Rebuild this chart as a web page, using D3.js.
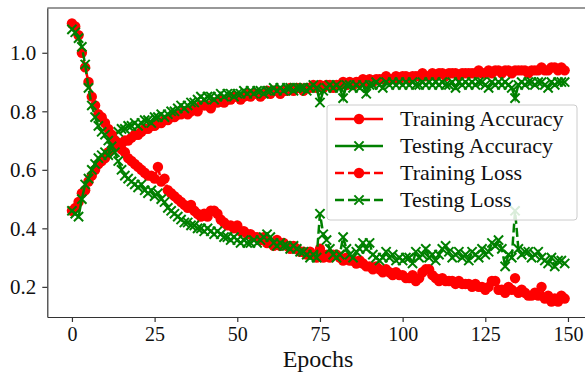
<!DOCTYPE html>
<html>
<head>
<meta charset="utf-8">
<script src="https://cdn.jsdelivr.net/npm/d3@7"></script>
<style>
  body { margin: 0; background: #fff; }
  text { font-family: "Liberation Serif", "DejaVu Serif", serif; fill: #111; }
</style>
</head>
<body>
<svg id="chart" width="585" height="374"></svg>
<script>
// epochs 0..149
var trainAcc = [
  0.46,0.47,0.49,0.52,0.53,0.56,0.58,0.60,0.62,0.63,
  0.64,0.66,0.67,0.68,0.68,0.69,0.70,0.70,0.71,0.72,
  0.72,0.73,0.74,0.74,0.75,0.75,0.76,0.76,0.77,0.77,
  0.78,0.78,0.79,0.79,0.80,0.79,0.80,0.81,0.80,0.82,
  0.82,0.82,0.81,0.83,0.83,0.84,0.83,0.84,0.84,0.85,
  0.85,0.84,0.85,0.86,0.85,0.86,0.86,0.85,0.86,0.87,
  0.86,0.87,0.87,0.86,0.87,0.87,0.88,0.87,0.88,0.88,
  0.87,0.88,0.88,0.89,0.88,0.89,0.88,0.89,0.89,0.88,
  0.89,0.89,0.90,0.89,0.90,0.89,0.90,0.90,0.91,0.90,
  0.91,0.90,0.91,0.91,0.91,0.92,0.91,0.91,0.92,0.91,
  0.92,0.92,0.91,0.92,0.92,0.92,0.93,0.92,0.92,0.93,
  0.92,0.93,0.93,0.92,0.93,0.93,0.93,0.92,0.93,0.93,
  0.93,0.93,0.93,0.94,0.93,0.93,0.94,0.93,0.94,0.94,
  0.93,0.94,0.94,0.93,0.94,0.94,0.94,0.94,0.93,0.94,
  0.94,0.94,0.95,0.94,0.94,0.95,0.95,0.94,0.95,0.94
];
var testAcc = [
  0.46,0.45,0.44,0.50,0.55,0.57,0.60,0.62,0.64,0.65,
  0.66,0.65,0.69,0.72,0.73,0.74,0.74,0.75,0.75,0.76,
  0.75,0.76,0.77,0.77,0.76,0.78,0.78,0.79,0.78,0.79,
  0.80,0.80,0.81,0.82,0.81,0.82,0.83,0.83,0.84,0.85,
  0.84,0.85,0.85,0.84,0.85,0.86,0.85,0.86,0.86,0.85,
  0.86,0.86,0.87,0.86,0.87,0.86,0.87,0.87,0.86,0.87,
  0.87,0.88,0.87,0.88,0.87,0.88,0.88,0.87,0.88,0.88,
  0.88,0.87,0.88,0.89,0.88,0.83,0.87,0.88,0.89,0.88,
  0.89,0.88,0.845,0.89,0.89,0.88,0.89,0.88,0.89,0.86,
  0.89,0.89,0.90,0.89,0.88,0.90,0.89,0.90,0.89,0.90,
  0.89,0.90,0.89,0.90,0.89,0.89,0.90,0.89,0.90,0.89,
  0.90,0.89,0.90,0.89,0.89,0.90,0.88,0.90,0.89,0.90,
  0.89,0.90,0.89,0.90,0.90,0.89,0.88,0.90,0.89,0.90,
  0.89,0.90,0.89,0.88,0.845,0.89,0.90,0.89,0.90,0.90,
  0.89,0.90,0.90,0.89,0.88,0.90,0.89,0.90,0.90,0.90
];
var trainLoss = [
  1.10,1.09,1.06,1.00,0.95,0.90,0.85,0.82,0.79,0.78,
  0.76,0.74,0.72,0.70,0.69,0.67,0.66,0.64,0.63,0.62,
  0.61,0.60,0.59,0.58,0.58,0.57,0.61,0.56,0.57,0.53,
  0.52,0.51,0.50,0.49,0.48,0.47,0.48,0.46,0.45,0.44,
  0.45,0.44,0.46,0.46,0.45,0.43,0.42,0.41,0.41,0.40,
  0.41,0.39,0.39,0.38,0.38,0.37,0.37,0.36,0.37,0.35,
  0.35,0.34,0.36,0.34,0.35,0.34,0.33,0.34,0.33,0.32,
  0.32,0.31,0.32,0.31,0.30,0.33,0.30,0.31,0.30,0.31,
  0.31,0.30,0.29,0.30,0.29,0.29,0.28,0.29,0.28,0.27,
  0.27,0.26,0.27,0.26,0.25,0.26,0.25,0.24,0.25,0.24,
  0.24,0.23,0.23,0.24,0.22,0.23,0.25,0.26,0.26,0.24,
  0.23,0.22,0.23,0.22,0.22,0.22,0.21,0.22,0.21,0.21,
  0.21,0.20,0.21,0.20,0.20,0.19,0.20,0.22,0.22,0.19,
  0.19,0.18,0.20,0.19,0.23,0.18,0.19,0.18,0.17,0.17,
  0.18,0.17,0.20,0.16,0.17,0.15,0.16,0.15,0.17,0.16
];
var testLoss = [
  1.08,1.07,1.05,1.02,0.96,0.88,0.82,0.78,0.75,0.73,
  0.72,0.70,0.68,0.66,0.63,0.60,0.58,0.57,0.56,0.55,
  0.54,0.55,0.53,0.52,0.53,0.51,0.52,0.50,0.49,0.47,
  0.46,0.45,0.44,0.43,0.42,0.42,0.41,0.41,0.40,0.40,
  0.39,0.40,0.39,0.38,0.39,0.38,0.37,0.37,0.36,0.37,
  0.36,0.35,0.36,0.35,0.35,0.36,0.35,0.36,0.37,0.38,
  0.37,0.35,0.34,0.35,0.34,0.34,0.33,0.34,0.33,0.32,
  0.32,0.31,0.30,0.31,0.30,0.45,0.38,0.36,0.33,0.31,
  0.30,0.31,0.37,0.33,0.31,0.30,0.32,0.33,0.35,0.33,
  0.35,0.31,0.30,0.29,0.30,0.32,0.30,0.31,0.29,0.30,
  0.29,0.30,0.30,0.28,0.32,0.30,0.31,0.33,0.30,0.31,
  0.29,0.31,0.33,0.34,0.32,0.30,0.31,0.32,0.30,0.31,
  0.29,0.32,0.31,0.30,0.33,0.31,0.32,0.35,0.34,0.36,
  0.33,0.27,0.31,0.30,0.46,0.33,0.31,0.32,0.32,0.30,
  0.31,0.32,0.30,0.29,0.28,0.30,0.27,0.29,0.29,0.28
];
var seriesNames = ["Training Accuracy", "Testing Accuracy", "Training Loss", "Testing Loss"];
var xTicks = [0, 25, 50, 75, 100, 125, 150];
var yTicks = [0.2, 0.4, 0.6, 0.8, 1.0];

(function() {
var series = [
  {name: seriesNames[0], values: trainAcc, color: "#ff0000", marker: "o", dash: null},
  {name: seriesNames[1], values: testAcc, color: "#008000", marker: "x", dash: null},
  {name: seriesNames[2], values: trainLoss, color: "#ff0000", marker: "o", dash: "9,4"},
  {name: seriesNames[3], values: testLoss, color: "#008000", marker: "x", dash: "9,4"}
];

var svg = d3.select("#chart");
var mLeft = 47.3, mTop = 8, mBottom = 317, mRight = 589.3;

var x = d3.scaleLinear().domain([-7.45, 156.45]).range([mLeft, mRight]);
var y = d3.scaleLinear().domain([0.097, 1.153]).range([mBottom, mTop]);

var line = d3.line()
    .x(function(d, i) { return x(i); })
    .y(function(d) { return y(d); });

function drawMarker(g, type, color, cx, cy) {
  if (type == "o") {
    g.append("circle").attr("cx", cx).attr("cy", cy).attr("r", 5.2).attr("fill", color);
  } else {
    var s = 4.6;
    g.append("path")
      .attr("d", "M" + (cx - s) + "," + (cy - s) + "L" + (cx + s) + "," + (cy + s) +
                 "M" + (cx - s) + "," + (cy + s) + "L" + (cx + s) + "," + (cy - s))
      .attr("stroke", color).attr("stroke-width", 2).attr("fill", "none");
  }
}

series.forEach(function(s) {
  var g = svg.append("g");
  g.append("path")
    .attr("d", line(s.values))
    .attr("fill", "none")
    .attr("stroke", s.color)
    .attr("stroke-width", 2.5)
    .attr("stroke-dasharray", s.dash);
  s.values.forEach(function(v, i) {
    drawMarker(g, s.marker, s.color, x(i), y(v));
  });
});

// top border of the frame
svg.append("line").attr("x1", mLeft).attr("x2", mRight).attr("y1", mTop).attr("y2", mTop)
  .attr("stroke", "#333").attr("stroke-width", 1.2);

var xAxis = svg.append("g")
    .attr("transform", "translate(0," + mBottom + ")")
    .call(d3.axisBottom(x).tickValues(xTicks).tickSize(5).tickSizeOuter(0).tickPadding(5).tickFormat(d3.format("d")));
var yAxis = svg.append("g")
    .attr("transform", "translate(" + mLeft + ",0)")
    .call(d3.axisLeft(y).tickValues(yTicks).tickSize(5).tickSizeOuter(0).tickPadding(6).tickFormat(d3.format(".1f")));

[xAxis, yAxis].forEach(function(a) {
  a.select(".domain").attr("stroke", "#333").attr("stroke-width", 1.2);
  a.selectAll(".tick line").attr("stroke", "#333").attr("stroke-width", 1.2);
  a.selectAll(".tick text")
    .style("font-family", "'Liberation Serif', serif")
    .style("font-size", "21px")
    .attr("fill", "#111");
});
xAxis.selectAll(".tick text").style("font-size", "20px");

svg.append("text")
  .attr("x", 318).attr("y", 367)
  .attr("text-anchor", "middle")
  .style("font-size", "24px")
  .text("Epochs");

// legend
var lg = svg.append("g").attr("transform", "translate(327,105)");
lg.append("rect")
  .attr("width", 250).attr("height", 115).attr("rx", 3)
  .attr("fill", "#fff").attr("fill-opacity", 0.85)
  .attr("stroke", "#ccc").attr("stroke-width", 1);
series.forEach(function(s, i) {
  var cy = 14 + i * 27;
  var row = lg.append("g");
  row.append("line").attr("x1", 8).attr("x2", 56).attr("y1", cy).attr("y2", cy)
    .attr("stroke", s.color).attr("stroke-width", 2.5).attr("stroke-dasharray", s.dash);
  drawMarker(row, s.marker, s.color, 32, cy);
  row.append("text").attr("x", 73).attr("y", cy + 7)
    .style("font-size", "22px")
    .text(s.name);
});
})();
</script>
</body>
</html>
